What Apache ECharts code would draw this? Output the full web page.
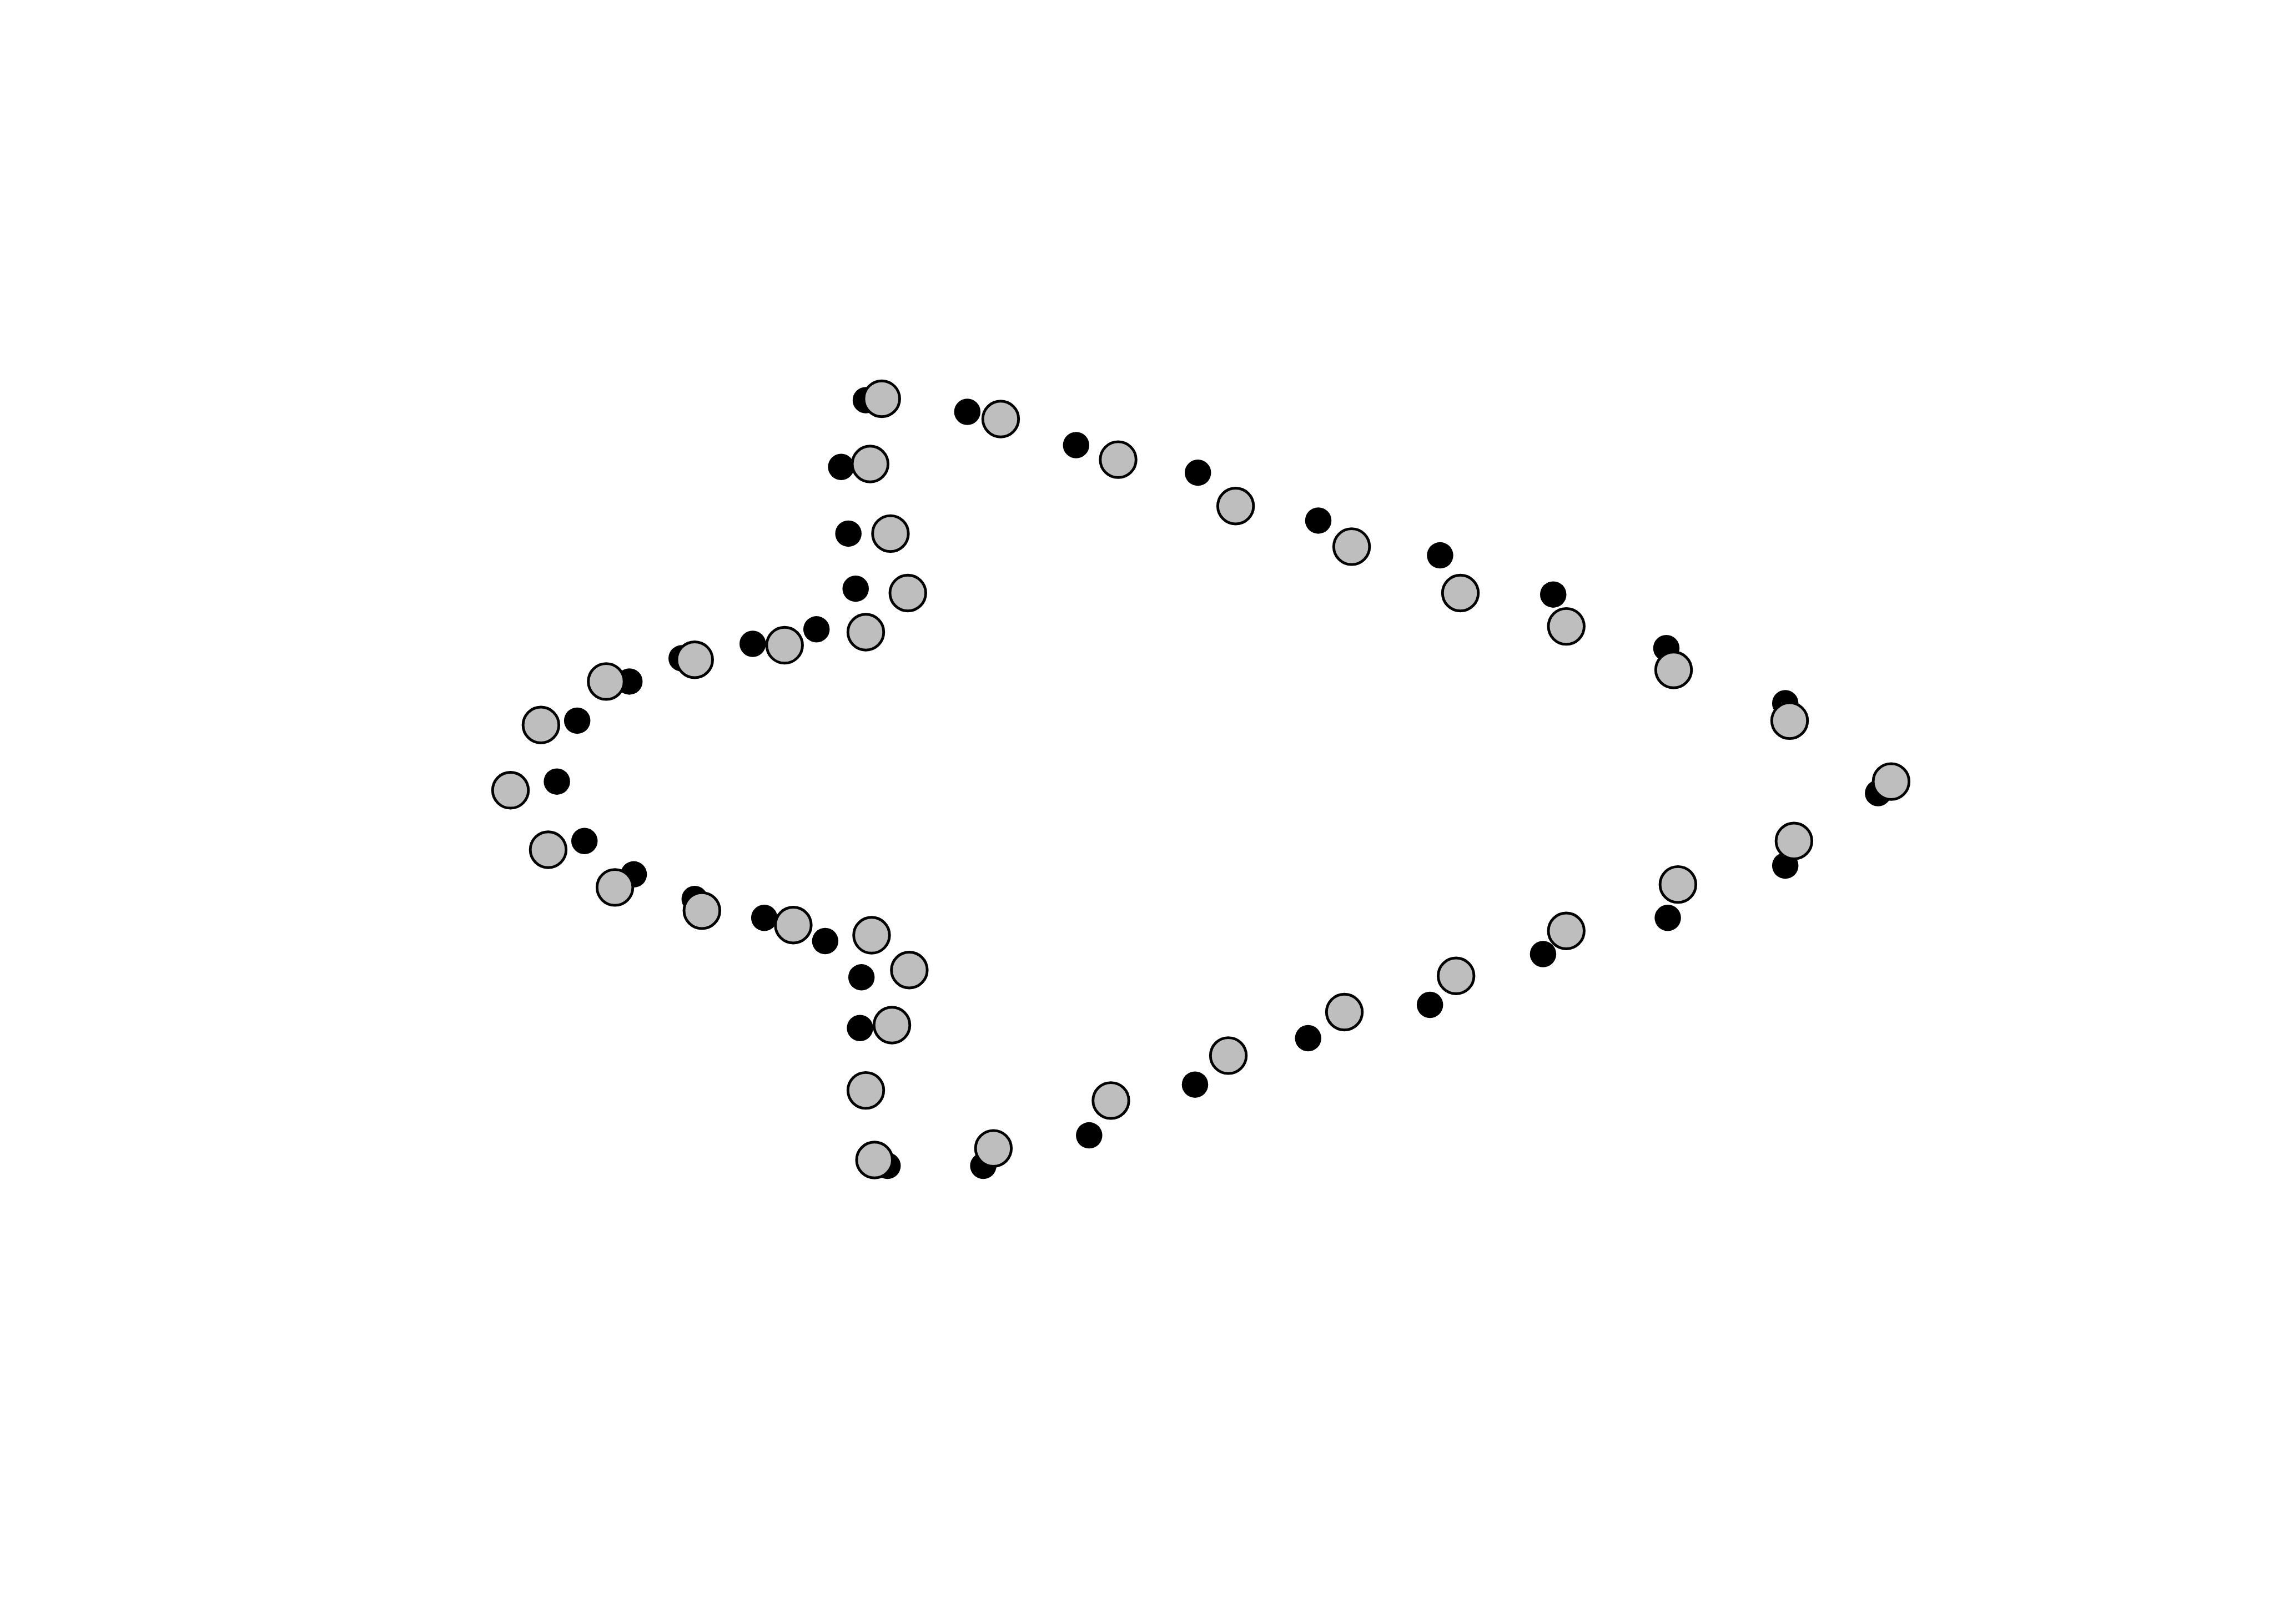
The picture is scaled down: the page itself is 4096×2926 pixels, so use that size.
<!DOCTYPE html>
<html>
<head>
<meta charset="utf-8">
<script src="https://cdn.jsdelivr.net/npm/echarts@6/dist/echarts.min.js"></script>
<style>
html,body{margin:0;padding:0;background:#fff;}
#chart{width:4096px;height:2926px;}
</style>
</head>
<body>
<div id="chart"></div>
<script>
// Landmark coordinates (units of a 1568 x 1120 frame, y downward)
var blackX = [597,667,742,826,909,993,1071,1149,1231,1295,1231,1150,1064,986,902,824,751,678,612,597,593,594,569,527,479,437,403,384,398,434,470,519,563,590,585,580];
var blackY = [276,284,307,326,359,383,410,447,485,547,597,633,658,693,716,748,783,804,804,750,709,674,649,633,620,603,580,539,497,470,454,444,434,406,368,322];
var greyX = [608,690,771,852,932,1007,1080,1154,1234,1304,1237,1157,1080,1004,927,847,766,685,603,597,615,627,601,547,484,424,378,352,373,418,479,541,597,626,614,600];
var greyY = [275,289,317,349,377,409,432,462,497,539,580,610,642,673,698,728,759,792,800,752,707,669,645,638,628,612,586,545,500,470,455,445,436,409,368,320];

function pairs(xs, ys){ return xs.map(function(x,i){ return [x, ys[i]]; }); }

var chart = echarts.init(document.getElementById('chart'));
chart.setOption({
  animation: false,
  backgroundColor: '#ffffff',
  grid: {left: 0, right: 0, top: 0, bottom: 0},
  xAxis: {type: 'value', min: 0, max: 1568, show: false},
  yAxis: {type: 'value', min: 0, max: 1120, inverse: true, show: false},
  series: [
    {
      type: 'scatter',
      data: pairs(blackX, blackY),
      symbol: 'circle',
      symbolSize: 47.5,
      itemStyle: {color: '#000000', opacity: 1},
      z: 2
    },
    {
      type: 'scatter',
      data: pairs(greyX, greyY),
      symbol: 'circle',
      symbolSize: 64.5,
      itemStyle: {color: '#bebebe', borderColor: '#000000', borderWidth: 4.9, opacity: 1},
      z: 3
    }
  ]
});
</script>
</body>
</html>
